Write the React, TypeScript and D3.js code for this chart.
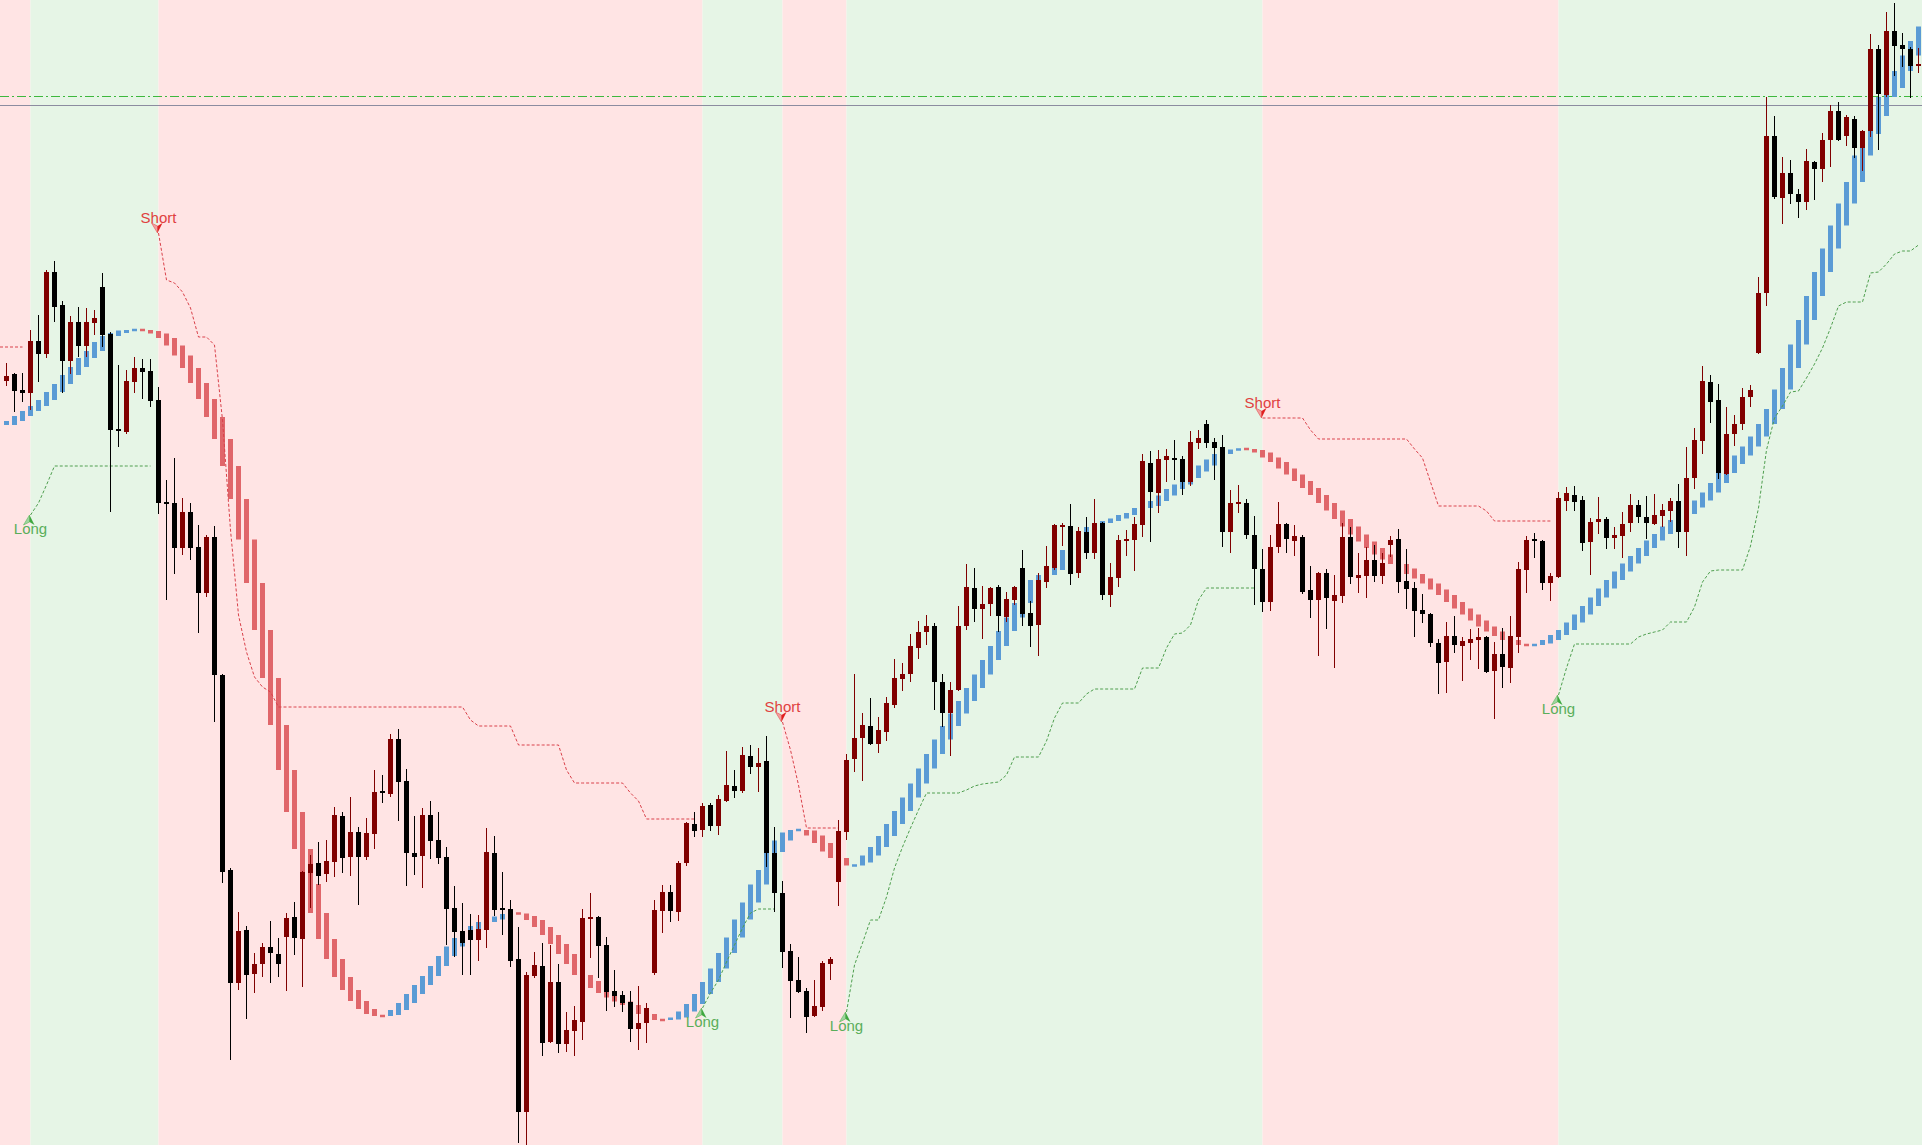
import React, { useEffect } from 'react';
import * as d3 from 'd3';

const W = 1922;
const H = 1145;
// price values are stored as distance below the chart's top price (PRICE_TOP)
const PRICE_TOP = 1145;
const _ = null;

const OPEN_D = [
  381,374,390,393,341,354,272,305,361,322,
  346,323,287,334,429,432,382,368,371,400,
  502,503,548,512,547,593,537,675,870,983,
  930,974,964,947,954,937,917,939,873,863,
  874,862,816,857,832,857,834,791,794,739,
  781,853,856,815,840,857,908,931,930,940,
  930,853,908,909,959,1112,976,966,1042,982,
  1044,1031,1022,919,917,945,991,995,1002,1029,
  1023,973,911,892,912,863,824,830,805,826,
  801,786,791,756,767,761,853,893,951,980,
  991,1016,1007,964,882,832,759,738,726,744,
  732,705,679,674,648,632,626,682,713,690,
  626,588,609,604,587,617,600,568,613,625,
  582,568,527,526,573,532,553,523,595,578,
  541,540,525,463,493,460,458,459,482,443,
  424,442,447,532,504,503,535,569,602,547,
  524,541,537,590,600,573,601,596,537,578,
  576,560,576,545,539,581,588,610,614,643,
  662,636,646,643,640,637,671,654,668,637,
  570,539,541,583,577,501,495,500,542,522,
  519,538,536,523,505,517,524,516,511,501,
  532,478,441,382,400,474,434,424,397,353,
  293,136,198,173,194,202,162,169,140,111,
  136,119,148,131,49,95,31,45,49,66,
];
const HIGH_D = [
  363,373,373,330,315,270,261,301,316,307,
  308,310,273,332,365,370,357,359,359,387,
  480,458,498,503,525,535,526,674,868,912,
  926,953,943,921,938,913,902,871,855,842,
  840,807,812,797,827,818,770,775,734,729,
  769,816,808,801,812,847,886,903,914,915,
  828,836,872,900,927,972,952,943,945,964,
  1012,1006,909,893,916,937,970,991,991,986,
  1003,900,885,885,861,822,812,803,803,795,
  751,770,747,745,748,736,827,881,944,957,
  988,980,961,957,820,754,674,713,698,717,
  697,659,663,634,621,615,623,674,682,606,
  564,568,586,587,585,592,586,550,601,573,
  546,524,523,504,527,517,499,522,563,535,
  530,517,454,451,450,449,440,456,431,430,
  420,438,435,490,485,499,516,549,535,502,
  523,525,535,566,572,569,575,523,527,553,
  547,545,553,536,529,549,582,594,613,639,
  622,616,637,629,628,636,642,628,616,562,
  536,533,540,573,492,487,486,496,518,497,
  517,527,512,494,500,496,494,504,498,484,
  447,428,366,375,384,407,415,388,385,277,
  97,116,157,160,189,149,161,133,105,102,
  115,116,130,34,45,12,3,33,47,48,
];
const LOW_D = [
  386,412,402,410,382,358,322,393,374,357,
  357,335,347,512,447,434,393,399,407,514,
  600,574,555,560,633,597,722,883,1060,990,
  1019,993,977,983,977,991,955,987,908,885,
  882,877,873,876,905,860,849,803,797,821,
  886,875,888,859,864,945,957,975,975,961,
  948,916,935,967,1143,1145,978,1056,1043,1053,
  1052,1056,1040,958,978,1011,1007,1012,1042,1050,
  1043,975,933,922,921,866,837,837,831,835,
  802,798,793,774,792,867,912,968,1018,993,
  1033,1017,1011,980,906,840,772,781,745,753,
  741,708,691,682,659,645,710,727,756,691,
  630,622,639,616,632,622,605,626,647,656,
  588,570,546,585,578,559,559,600,607,587,
  556,571,537,542,513,482,480,495,486,449,
  448,480,547,553,513,539,605,612,611,553,
  553,556,594,618,656,629,668,603,584,593,
  598,582,584,557,593,609,637,623,647,694,
  693,653,681,660,669,673,719,688,683,653,
  593,558,590,601,578,511,511,551,575,534,
  549,549,558,532,523,539,525,527,522,548,
  556,489,454,423,479,475,446,430,407,354,
  306,199,224,204,218,210,200,182,167,141,
  146,158,171,137,150,97,76,67,98,73,
];
const CLOSE_D = [
  376,391,393,341,354,272,307,361,322,346,
  322,318,335,430,431,381,368,372,401,503,
  504,548,512,548,593,537,675,872,983,931,
  975,964,947,953,964,918,938,872,864,876,
  861,815,858,832,857,833,792,793,739,782,
  853,857,815,841,858,909,932,943,940,929,
  852,910,910,961,1112,975,965,1043,982,1044,
  1030,1020,918,917,946,992,996,1003,1029,1023,
  1008,910,892,911,863,823,831,806,826,799,
  785,791,755,767,763,853,893,952,981,992,
  1017,1006,963,959,831,760,738,725,744,730,
  703,678,674,646,632,626,682,713,690,626,
  587,609,604,588,616,599,587,614,626,580,
  566,525,525,574,531,553,523,595,577,540,
  539,524,461,492,459,456,460,482,442,438,
  443,448,532,503,502,535,569,602,547,524,
  539,536,592,600,573,598,595,537,577,575,
  560,576,563,540,582,589,611,614,643,663,
  636,645,641,639,637,672,654,667,636,569,
  540,541,583,576,498,493,502,543,522,519,
  538,535,524,505,517,523,515,510,501,532,
  478,440,381,402,473,434,424,397,390,293,
  136,197,173,194,202,161,169,140,111,140,
  117,148,131,49,94,31,46,49,66,64,
];
const MA_D = [
  425,421,416,411,406,400,392,384,375,367,
  358,351,342,336,333,330.5,330,330,331,333.5,
  338,345.5,355.5,368,383,399,417,439,466,499,
  539.5,583,630,678,725,770,812,849,884,913,
  939,959,977,990,1001,1009,1014,1016,1015,1010,
  1003,994,985,976,966,956,946.5,938,931,926,
  922,919.5,916.5,914,913.5,916,920,927,935,944,
  954,964,975,981,988,993,997.5,1001.5,1005,1009,
  1014,1018,1020,1019.5,1017.5,1011.5,1004,994,982,968.5,
  953,937.5,919.5,902.5,884.5,870,852,840.5,832.5,830,
  830.5,835.5,843,851.5,858,864,865.5,862.5,855.5,847,
  836,824,811,797.5,783.5,768.5,754,739.5,726,713.5,
  701,688,674.5,660,646,631,617.5,603,591,580,
  575,570,559,550,541,533,527,523,521,518.5,
  515,513,508,506,501,495.5,489,484.5,478,471.5,
  465.5,459.5,454,450.5,449.5,449,450,452.5,457.5,462,
  468.5,474.5,481,488,495,503,510.5,519,526.5,534.5,
  541.5,548,554.5,559.5,564,568.5,574,578.5,583.5,589.5,
  595,602,608.5,614.5,620.5,626.5,631.5,636,640,643.5,
  645,645,643.5,640,635,630,622.5,614.5,606,597.5,
  588.5,580,571.5,563.5,556,548,540.5,534,526.5,520,
  514,507.5,500.5,492.5,483,473,464,455.5,446.5,436.5,
  424,409,389.5,368,344.5,320,296,272,248.5,225.5,
  203.5,182,155.5,134,116,97,88,71,55.5,41,
];
const STOP_SHORT_D = [
  347,347,347,_,_,_,_,_,_,_,
  _,_,_,_,_,_,_,_,_,233,
  280,283,292,308,337,337,345,420,530,615,
  652,677,687,692,707,707,707,707,707,707,
  707,707,707,707,707,707,707,707,707,707,
  707,707,707,707,707,707,707,707,720,726,
  726,726,726,726,745,745,745,745,745,745,
  770,783,783,783,783,783,783,783,793,801,
  819,819,819,819,819,819,819,_,_,_,
  _,_,_,_,_,_,_,722,750,785,
  828,828,828,828,828,_,_,_,_,_,
  _,_,_,_,_,_,_,_,_,_,
  _,_,_,_,_,_,_,_,_,_,
  _,_,_,_,_,_,_,_,_,_,
  _,_,_,_,_,_,_,_,_,_,
  _,_,_,_,_,_,_,418,418,418,
  418,418,418,430,439,439,439,439,439,439,
  439,439,439,439,439,439,449,458,482,506,
  506,506,506,506,506,511,521,521,521,521,
  521,521,521,521,_,_,_,_,_,_,
  _,_,_,_,_,_,_,_,_,_,
  _,_,_,_,_,_,_,_,_,_,
  _,_,_,_,_,_,_,_,_,_,
  _,_,_,_,_,_,_,_,_,_,
];
const STOP_LONG_D = [
  _,_,_,515,503,485,466,466,466,466,
  466,466,466,466,466,466,466,466,466,_,
  _,_,_,_,_,_,_,_,_,_,
  _,_,_,_,_,_,_,_,_,_,
  _,_,_,_,_,_,_,_,_,_,
  _,_,_,_,_,_,_,_,_,_,
  _,_,_,_,_,_,_,_,_,_,
  _,_,_,_,_,_,_,_,_,_,
  _,_,_,_,_,_,_,1008,993,980,
  962,945,928,913,909,909,909,_,_,_,
  _,_,_,_,_,1012,965,943,920,920,
  897,868,847,828,810,793,793,793,793,793,
  790,786,784,783,782,775,757,757,757,757,
  741,718,703,703,703,694,689,689,689,689,
  689,689,668,668,668,648,634,633,625,600,
  588,588,588,588,588,588,588,_,_,_,
  _,_,_,_,_,_,_,_,_,_,
  _,_,_,_,_,_,_,_,_,_,
  _,_,_,_,_,_,_,_,_,_,
  _,_,_,_,695,668,644,644,644,644,
  644,644,644,644,637,634,632,630,622,622,
  622,607,582,571,570,570,570,570,546,508,
  450,418,406,392,391,378,364,348,328,306,
  302,302,302,273,272,264,254,251,251,245,
];

const SIGNAL_INDEX = [3, 19, 87, 97, 105, 157, 194];
const SIGNAL_TYPE = ['Long', 'Short', 'Long', 'Short', 'Long', 'Short', 'Long'];
const LEVELS_D = [96, 105];

const toPrice = (d: number | null) => (d === null ? null : PRICE_TOP - d);
const open = OPEN_D.map(toPrice) as number[];
const high = HIGH_D.map(toPrice) as number[];
const low = LOW_D.map(toPrice) as number[];
const close = CLOSE_D.map(toPrice) as number[];
const ma = MA_D.map(toPrice) as number[];
const stopShort = STOP_SHORT_D.map(toPrice);
const stopLong = STOP_LONG_D.map(toPrice);
const levels = LEVELS_D.map(toPrice) as number[];

const PINK = '#FFE4E4';
const GREEN = '#E6F5E6';
const BULL = '#800000';
const BEAR = '#000000';
const MA_UP = '#5B9BD5';
const MA_DN = '#E0666A';

export default function App() {
  useEffect(() => {
    document.body.style.margin = '0';
    document.body.style.background = '#fff';
  }, []);

  const N = open.length;
  const x = d3.scaleLinear().domain([0, N - 1]).range([6.5, 6.5 + 8 * (N - 1)]);
  const y = d3.scaleLinear().domain([0, PRICE_TOP]).range([H, 0]);
  const bw = 5;

  // background bands
  const bounds = [0, ...SIGNAL_INDEX.map((i) => x(i)), W];
  const states = ['Short', ...SIGNAL_TYPE];
  const bands = states.map((s, k) => ({ x0: bounds[k], x1: bounds[k + 1], s }));

  const lineGen = d3
    .line<number | null>()
    .defined((d) => d !== null)
    .x((_d, i) => (i === 0 ? 0 : x(i)))
    .y((d) => y(d as number));

  const blocks = ma.map((v, i) => {
    const prev = i > 0 ? ma[i - 1] : v;
    const next = i < N - 1 ? ma[i + 1] : 2 * v - prev;
    const up = next >= prev;
    let top = Math.min(y(prev), y(next));
    let bot = Math.max(y(prev), y(next));
    if (bot - top < 2.5) {
      const c = y(v);
      top = c - 1.25;
      bot = c + 1.25;
    }
    return { i, top, h: bot - top, color: up ? MA_UP : MA_DN };
  });

  const font = '"Liberation Sans", Arial, sans-serif';

  return (
    <svg
      width={W}
      height={H}
      style={{ position: 'absolute', left: 0, top: 0, display: 'block' }}
    >
      {bands.map((b, k) => (
        <rect key={'b' + k} x={b.x0} y={0} width={b.x1 - b.x0} height={H} fill={b.s === 'Long' ? GREEN : PINK} />
      ))}

      <line x1={0} x2={W} y1={y(levels[0]) + 0.5} y2={y(levels[0]) + 0.5} stroke="#3DB83D" strokeWidth={1} strokeDasharray="9,3,2,3" />
      <line x1={0} x2={W} y1={y(levels[1]) + 0.5} y2={y(levels[1]) + 0.5} stroke="#8C8CA0" strokeWidth={1} />

      {blocks.map((b) => (
        <rect key={'m' + b.i} x={x(b.i) - bw / 2} y={b.top} width={bw} height={b.h} fill={b.color} />
      ))}

      <path d={lineGen(stopShort) || ''} fill="none" stroke="#D9414A" strokeWidth={1} strokeDasharray="3,2" />
      <path d={lineGen(stopLong) || ''} fill="none" stroke="#4E9E4E" strokeWidth={1} strokeDasharray="3,2" />

      {open.map((o, i) => {
        const c = close[i];
        const bull = c > o;
        const col = bull ? BULL : BEAR;
        const yt = y(Math.max(o, c));
        const yb = y(Math.min(o, c));
        const h = Math.max(1, yb - yt);
        return (
          <g key={'c' + i}>
            <line x1={x(i)} x2={x(i)} y1={y(high[i])} y2={y(low[i])} stroke={col} strokeWidth={1} />
            <rect x={x(i) - bw / 2} y={yt} width={bw} height={h} fill={col} />
          </g>
        );
      })}

      {SIGNAL_INDEX.map((si, k) => {
        const isLong = SIGNAL_TYPE[k] === 'Long';
        const lv = isLong ? stopLong[si] : stopShort[si];
        const cx = x(si) - 1;
        const ty = y(lv as number);
        if (isLong) {
          return (
            <g key={'s' + k}>
              <path d={`M${cx},${ty} L${cx - 6},${ty + 10} L${cx},${ty + 7} Z`} fill="#9FD49F" stroke="#5DB85D" strokeWidth={0.6} />
              <path d={`M${cx},${ty} L${cx + 5},${ty + 10} L${cx},${ty + 7} Z`} fill="#3FA83F" />
              <text x={cx + 1} y={ty + 19} textAnchor="middle" fontFamily={font} fontSize={15} fill="#5AAE5A">Long</text>
            </g>
          );
        }
        return (
          <g key={'s' + k}>
            <path d={`M${cx},${ty} L${cx - 6},${ty - 10} L${cx},${ty - 7} Z`} fill="#F2A0A0" stroke="#E85050" strokeWidth={0.6} />
            <path d={`M${cx},${ty} L${cx + 5},${ty - 10} L${cx},${ty - 7} Z`} fill="#E02020" />
            <text x={cx + 1} y={ty - 10} textAnchor="middle" fontFamily={font} fontSize={15} fill="#E04040">Short</text>
          </g>
        );
      })}
    </svg>
  );
}
